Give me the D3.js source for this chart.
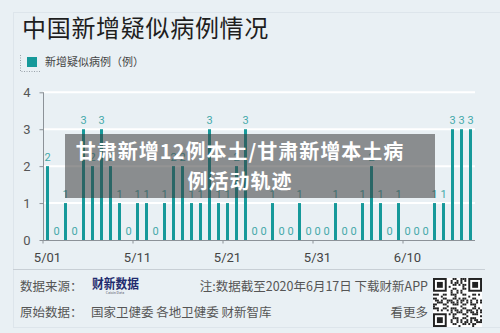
<!DOCTYPE html>
<html>
<head>
<meta charset="utf-8">
<script src="https://cdn.jsdelivr.net/npm/d3@7"></script>
<style>
  body { margin: 0; background: #e9f0f4; }
  svg { display: block; font-family: "Noto Sans CJK SC", "Noto Sans", sans-serif; }
</style>
</head>
<body>
<script>
// daily new suspected cases, 5/01 - 6/17
const days = [
  "5/01","5/02","5/03","5/04","5/05","5/06","5/07","5/08","5/09","5/10",
  "5/11","5/12","5/13","5/14","5/15","5/16","5/17","5/18","5/19","5/20",
  "5/21","5/22","5/23","5/24","5/25","5/26","5/27","5/28","5/29","5/30",
  "5/31","6/01","6/02","6/03","6/04","6/05","6/06","6/07","6/08","6/09",
  "6/10","6/11","6/12","6/13","6/14","6/15","6/16","6/17"
];
const suspected = [
  2,0,1,0,3,2,3,2,1,0,
  1,1,0,1,2,2,1,1,3,1,
  1,2,3,0,0,1,0,0,1,0,
  0,0,1,0,0,1,2,1,0,1,
  0,0,0,1,1,3,3,3
];
const xTickLabels = ["5/01","5/11","5/21","5/31","6/10"];
const yTicks = [0, 1, 2, 3, 4];

const barColor = "#16999a";
const labelColor = "#45a9aa";

const svg = d3.select("body").append("svg")
  .attr("width", 500)
  .attr("height", 333);

// card outline
svg.append("rect")
  .attr("x", 13.5).attr("y", 12.5)
  .attr("width", 500).attr("height", 315)
  .attr("fill", "#e9f0f4")
  .attr("stroke", "#dde5eb");

// title
svg.append("text")
  .attr("x", 22).attr("y", 37)
  .attr("font-size", 24)
  .attr("letter-spacing", 0.7)
  .attr("fill", "#1e1e1e")
  .text("中国新增疑似病例情况");

// legend
svg.append("path")
  .attr("d", "M20.5,55 V71.5 H40")
  .attr("fill", "none")
  .attr("stroke", "#9aa3aa")
  .attr("stroke-dasharray", "1,1.5");
svg.append("rect")
  .attr("x", 27).attr("y", 57)
  .attr("width", 10).attr("height", 10)
  .attr("fill", barColor);
svg.append("text")
  .attr("x", 45).attr("y", 66)
  .attr("font-size", 11)
  .attr("fill", "#444")
  .text("新增疑似病例（例）");

// scales
const x = d3.scaleBand().domain(days).range([43, 475]);
const y = d3.scaleLinear().domain([0, 4]).range([240, 92.3]);

// gridlines
svg.append("g")
  .selectAll("line")
  .data(yTicks.slice(1))
  .join("line")
  .attr("x1", 43).attr("x2", 475)
  .attr("y1", d => y(d)).attr("y2", d => y(d))
  .attr("stroke", "#ffffff")
  .attr("stroke-width", 2);

// y axis
const yAxis = svg.append("g")
  .attr("transform", "translate(43.5,0)")
  .call(d3.axisLeft(y).tickValues(yTicks).tickFormat(d3.format("d")).tickSize(4).tickPadding(9));
yAxis.select(".domain").attr("stroke", "#8c9298").attr("d", `M0,${y(4)}V${y(0)}`);
yAxis.selectAll(".tick line").attr("stroke", "#8c9298");
yAxis.selectAll("text")
  .attr("font-size", 13)
  .attr("fill", "#555")
  .attr("font-family", "Roboto, 'Noto Sans', sans-serif");

// bars
const barW = 3;
svg.append("g")
  .selectAll("rect")
  .data(suspected)
  .join("rect")
  .attr("x", (d, i) => x(days[i]) + x.bandwidth() / 2 - barW / 2)
  .attr("y", d => y(d))
  .attr("width", barW)
  .attr("height", d => y(0) - y(d))
  .attr("fill", barColor);

// value labels
svg.append("g")
  .selectAll("text")
  .data(suspected)
  .join("text")
  .attr("x", (d, i) => x(days[i]) + x.bandwidth() / 2)
  .attr("y", d => y(d) - 5)
  .attr("text-anchor", "middle")
  .attr("font-size", 11)
  .attr("font-family", "Roboto, 'Noto Sans', sans-serif")
  .attr("fill", labelColor)
  .text(d => d);

// x axis
const xAxis = svg.append("g")
  .attr("transform", `translate(0,${y(0) + 0.5})`)
  .call(d3.axisBottom(x).tickValues(xTickLabels).tickSize(3).tickPadding(9));
xAxis.select(".domain").attr("stroke", "#8c9298").attr("d", "M43,0H475");
xAxis.selectAll(".tick line")
  .attr("stroke", "#8c9298")
  .attr("x1", -x.step() / 2).attr("x2", -x.step() / 2);
xAxis.selectAll("text")
  .attr("font-size", 13)
  .attr("fill", "#444")
  .attr("font-family", "Roboto, 'Noto Sans', sans-serif");

// headline overlay
svg.append("rect")
  .attr("x", 65).attr("y", 134)
  .attr("width", 370).attr("height", 64)
  .attr("fill", "rgba(60,60,60,0.55)");
const headline = ["甘肃新增12例本土/甘肃新增本土病", "例活动轨迹"];
svg.append("g")
  .selectAll("text")
  .data(headline)
  .join("text")
  .attr("x", 240)
  .attr("y", (d, i) => 159 + i * 30)
  .attr("text-anchor", "middle")
  .attr("font-size", 20)
  .attr("font-weight", "bold")
  .attr("letter-spacing", 1)
  .attr("fill", "#ffffff")
  .text(d => d);

// footer
svg.append("line")
  .attr("x1", 13).attr("x2", 485)
  .attr("y1", 269.5).attr("y2", 269.5)
  .attr("stroke", "#c8cfd5");

const foot = svg.append("g")
  .attr("font-size", 12.5)
  .attr("fill", "#555");
foot.append("text").attr("x", 20).attr("y", 291).text("数据来源：");
foot.append("text").attr("x", 20).attr("y", 317).text("原始数据：");
foot.append("text").attr("x", 91).attr("y", 317).text("国家卫健委 各地卫健委 财新智库");
foot.append("text").attr("x", 428).attr("y", 291).attr("text-anchor", "end")
  .text("注:数据截至2020年6月17日 下载财新APP");
foot.append("text").attr("x", 428).attr("y", 317).attr("text-anchor", "end").text("看更多");

// logo
svg.append("text")
  .attr("x", 92).attr("y", 288)
  .attr("font-size", 13)
  .attr("font-weight", "bold")
  .attr("textLength", 47)
  .attr("lengthAdjust", "spacingAndGlyphs")
  .attr("fill", "#1f2b6e")
  .text("财新数据");
svg.append("text")
  .attr("x", 115).attr("y", 293.5)
  .attr("text-anchor", "middle")
  .attr("font-size", 3.5)
  .attr("fill", "#556")
  .text("Caixin Data");

// QR code decoration
const qrN = 25, qrSize = 49, qrX = 433, qrY = 278;
const m = qrSize / qrN;
const cells = [];
for (let r = 0; r < qrN; r++) {
  for (let c = 0; c < qrN; c++) {
    const inFinder = (r < 8 && c < 8) || (r < 8 && c >= qrN - 8) || (r >= qrN - 8 && c < 8);
    if (inFinder) continue;
    if (((r * 7 + c * 11 + r * c) % 5) < 2 || ((r + c * 3) % 7 === 0)) cells.push([r, c]);
  }
}
const qr = svg.append("g").attr("transform", `translate(${qrX},${qrY})`);
qr.append("rect").attr("width", qrSize).attr("height", qrSize).attr("fill", "#fff");
qr.selectAll("rect.m")
  .data(cells)
  .join("rect")
  .attr("class", "m")
  .attr("x", d => d[1] * m).attr("y", d => d[0] * m)
  .attr("width", m).attr("height", m)
  .attr("fill", "#222");
[[0, 0], [0, qrN - 7], [qrN - 7, 0]].forEach(([r, c]) => {
  qr.append("rect").attr("x", c * m + m / 2).attr("y", r * m + m / 2)
    .attr("width", 6 * m).attr("height", 6 * m)
    .attr("fill", "none").attr("stroke", "#222").attr("stroke-width", m);
  qr.append("rect").attr("x", (c + 2) * m).attr("y", (r + 2) * m)
    .attr("width", 3 * m).attr("height", 3 * m).attr("fill", "#222");
});
</script>
</body>
</html>
